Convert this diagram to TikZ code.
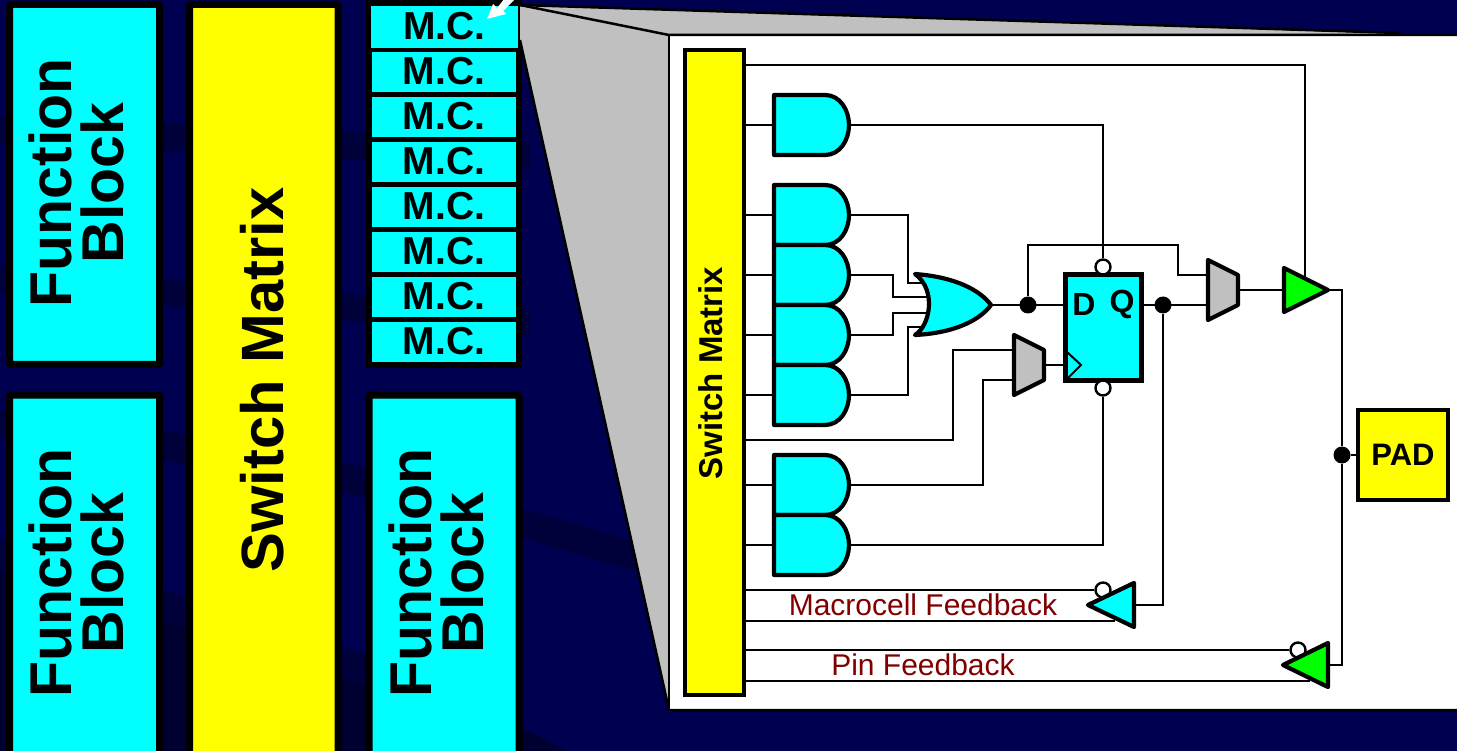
\documentclass[tikz,border=0pt]{standalone}
\usepackage{fontspec}
\setmainfont{Liberation Sans}
\usetikzlibrary{calc}
\definecolor{navy}{HTML}{000050}
\definecolor{band}{HTML}{00003A}
\definecolor{deep}{HTML}{000030}
\definecolor{cy}{HTML}{00FFFF}
\definecolor{ye}{HTML}{FFFF00}
\definecolor{gn}{HTML}{00FF00}
\definecolor{gy}{HTML}{C0C0C0}
\definecolor{dred}{HTML}{800000}
\tikzset{
  x=1pt,y=-1pt,
  wire/.style={draw=black,line width=2.4pt,line join=miter},
  gate/.style={draw=black,line width=4.2pt,line join=round},
  blockbox/.style={draw=black,line width=7pt,rounded corners=1pt,anchor=north west,inner sep=0,outer sep=0},
  blocktext/.style={rotate=90,font=\fontsize{59}{52}\selectfont\bfseries,align=center,inner sep=0},
  mcbox/.style={fill=cy,minimum width=144pt,minimum height=40pt,inner sep=0,font=\fontsize{39}{39}\selectfont\bfseries,text=black,text depth=2pt},
  joint/.style={circle,fill=black,minimum size=17pt,inner sep=0},
  bubble/.style={circle,draw=black,fill=white,line width=2.4pt,minimum size=15pt,inner sep=0},
  feedback/.style={text=dred,font=\fontsize{30}{30}\selectfont,inner sep=0},
  fflabel/.style={font=\fontsize{32}{32}\selectfont\bfseries,inner sep=0},
}
\newcommand{\andgate}[2]{%
  \path[gate,fill=cy] (774,#2-30) -- (825,#2-30) .. controls (840,#2-30) and (849,#2-15) .. (849,#2) .. controls (849,#2+15) and (840,#2+30) .. (825,#2+30) -- (774,#2+30) -- cycle;
  \coordinate (#1in) at (774,#2);
  \coordinate (#1out) at (849,#2);
}
\newcommand{\muxshape}[2]{%
  \path[gate,fill=gy] ($(#2)+(0,-30)$) -- ($(#2)+(30,-15)$) -- ($(#2)+(30,15)$) -- ($(#2)+(0,30)$) -- cycle;
  \coordinate (#1a) at ($(#2)+(0,-15)$);
  \coordinate (#1b) at ($(#2)+(0,15)$);
  \coordinate (#1out) at ($(#2)+(30,0)$);
}
\begin{document}
\begin{tikzpicture}
\useasboundingbox (0,0) rectangle (1457,751);
\fill[navy] (0,0) rectangle (1457,751);
% background bands
\fill[band] (0,115) -- (530,141) -- (530,168) -- (0,142) -- cycle;
\fill[band] (0,265) -- (530,309) -- (530,336) -- (0,292) -- cycle;
\fill[band] (0,411) -- (174,432) -- (354,465) -- (521,508) -- (640,543) -- (640,572) -- (521,538) -- (354,495) -- (174,462) -- (0,438) -- cycle;
\fill[band] (0,540) -- (174,593) -- (354,650) -- (521,700) -- (521,727) -- (354,683) -- (174,625) -- (0,572) -- cycle;
\fill[deep] (0,572) -- (174,625) -- (354,683) -- (521,727) -- (567,751) -- (0,751) -- cycle;

% left blocks
\node[blockbox,fill=cy,minimum width=150pt,minimum height=360pt] (fb1box) at (9.5,4.5) {};
\node[blocktext] (fb1) at (76.5,183) {Function\\Block};
\node[blockbox,fill=cy,minimum width=150pt,minimum height=380pt] (fb2box) at (9.5,395) {};
\node[blocktext] (fb2) at (76.5,573) {Function\\Block};
\node[blockbox,fill=ye,minimum width=148.5pt,minimum height=790pt] (smbox) at (189.5,4.5) {};
\node[rotate=90,font=\fontsize{59.7}{60}\selectfont\bfseries,inner sep=0] (sm) at (262,380) {Switch Matrix};
\fill[black,rounded corners=2pt] (366,-6) rectangle (522,368);
\node[blockbox,fill=cy,minimum width=150pt,minimum height=380pt] (fb3box) at (369,395) {};
\node[blocktext] (fb3) at (436.5,573) {Function\\Block};

% funnel
\fill[gy] (520,5) -- (1400,34) -- (669,35) -- (669,710) -- (520,40) -- cycle;
\fill[white] (669,35) rectangle (1460,710);
\draw[line width=2.5pt] (520,5) -- (669,35) -- (1460,35);
\draw[line width=2.5pt] (520,5) -- (1400,33);
\draw[line width=2.5pt] (520,40) -- (669,710) -- (1460,710);
\draw[line width=2.5pt] (669,35) -- (669,710);

% macrocells
\node[mcbox,minimum width=147pt,minimum height=42pt,text depth=4pt] (mc1) at (444.5,27.5) {M.C.};
\foreach \i/\y in {2/72,3/117,4/162,5/207,6/252,7/297,8/342}{
  \node[mcbox] (mc\i) at (444,\y) {M.C.};
}
% pointer arrow
\fill[white] (487,19) -- (493,4) -- (497,8) -- (505,-2) -- (516,-2) -- (503,11) -- (506,14) -- cycle;

% inner switch matrix
\node[draw=black,fill=ye,line width=4pt,minimum width=59pt,minimum height=645pt,inner sep=0] (ism) at (714.5,372.5) {};
\node[rotate=90,font=\fontsize{33}{33}\selectfont\bfseries,inner sep=0] (ismt) at (711,373) {Switch Matrix};

% named ports
\coordinate (a0) at (745,65);
\coordinate (a1) at (745,125);
\coordinate (a2) at (745,215);
\coordinate (a3) at (745,275);
\coordinate (a4) at (745,335);
\coordinate (a5) at (745,395);
\coordinate (a6) at (745,440);
\coordinate (a7) at (745,485);
\coordinate (a8) at (745,545);
\coordinate (a9) at (745,590);
\coordinate (a10) at (745,621);
\coordinate (a11) at (745,650);
\coordinate (a12) at (745,681);

% flip-flop
\node[draw=black,fill=cy,line width=4.2pt,minimum width=76pt,minimum height=106pt,inner sep=0] (ff) at (1103.5,327.5) {};
\node[fflabel] (ffd) at (1084,304) {D};
\node[fflabel] (ffq) at (1122,304) {Q};
\node[bubble] (ffset) at (1103,267) {};
\node[bubble] (ffrst) at (1103,388) {};
\node[joint] (j1) at (1028,305) {};
\node[joint] (j2) at (1163,305) {};
\node[joint] (j3) at (1342,455) {};
\node[draw=black,fill=ye,line width=4pt,minimum width=90pt,minimum height=90pt,inner sep=0,font=\fontsize{31}{31}\selectfont\bfseries] (pad) at (1403,455) {PAD};
\coordinate (t1in) at (1284,290);
\coordinate (t1out) at (1328,290);
\coordinate (t1en) at (1305,278);
\coordinate (t2in) at (1134,605);
\coordinate (t2low) at (1115,621);
\coordinate (t3in) at (1328,665);
\coordinate (t3low) at (1310,681);
\coordinate (ora) at (923,283);
\coordinate (orb) at (930,297);
\coordinate (orc) at (930,313);
\coordinate (ord) at (923,327);
\coordinate (orout) at (991,305);
\coordinate (ckin) at (1065,365);
\coordinate (orend) at (1065,305);

\andgate{g1}{125}
\andgate{g6}{485}
\andgate{g7}{545}
\andgate{g2}{215}
\andgate{g3}{275}
\andgate{g4}{335}
\andgate{g5}{395}
\muxshape{mc}{1014,365}
\muxshape{om}{1208,290}

\draw[wire] (a0) -| (t1en);
\draw[wire] (a1) -- (g1in);
\draw[wire] (a2) -- (g2in);
\draw[wire] (a3) -- (g3in);
\draw[wire] (a4) -- (g4in);
\draw[wire] (a5) -- (g5in);
\draw[wire] (a7) -- (g6in);
\draw[wire] (a8) -- (g7in);
\draw[wire] (g1out) -| (ffset.north);
\draw[wire] (g2out) -- (908,215) |- (ora);
\draw[wire] (g3out) -- (893,275) |- (orb);
\draw[wire] (g4out) -- (893,335) |- (orc);
\draw[wire] (g5out) -- (908,395) |- (ord);
\draw[wire] (orout) -- (orend);
\draw[wire] (j1) -- (1028,245) -- (1178,245) |- (oma);
\draw[wire] (ff.east |- j2) -- (omb);
\draw[wire] (omout) -- (t1in);
\draw[wire] (a6) -- (953,440) |- (mca);
\draw[wire] (g6out) -- (983,485) |- (mcb);
\draw[wire] (mcout) -- (ckin);
\draw[wire] (g7out) -| (ffrst.south);
\draw[wire] (t1out) -- (1342,290) -- (j3) -- (1342,665) -- (t3in);
\draw[wire] (j3) -- (pad.west);
\draw[wire] (j2) |- (t2in);
\draw[wire] (a10) -- (t2low);
\draw[wire] (a12) -- (t3low);
\node[bubble] (fbb) at (1103,590) {};
\node[bubble] (pbb) at (1298,650) {};
\draw[wire] (a9) -- (fbb);
\draw[wire] (a11) -- (pbb);
\path[gate,fill=cy] (915,274) .. controls (955,277) and (980,290) .. (orout) .. controls (980,320) and (955,333) .. (915,335) .. controls (930,326) and (937,290) .. (915,274) -- cycle;
\path[gate,fill=gn] (1284,268) -- (t1out) -- (1284,312) -- cycle;
\path[gate,fill=cy] (1088,605) -- (1134,583) -- (1134,627) -- cycle;
\path[gate,fill=gn] (1283,665) -- (1328,643) -- (1328,687) -- cycle;
\draw[draw=black,line width=2pt] (1067,352) -- (1081,365) -- (1067,379);
\node[feedback] (mfb) at (923,605) {Macrocell Feedback};
\node[feedback] (pfb) at (923,665) {Pin Feedback};
\end{tikzpicture}
\end{document}
